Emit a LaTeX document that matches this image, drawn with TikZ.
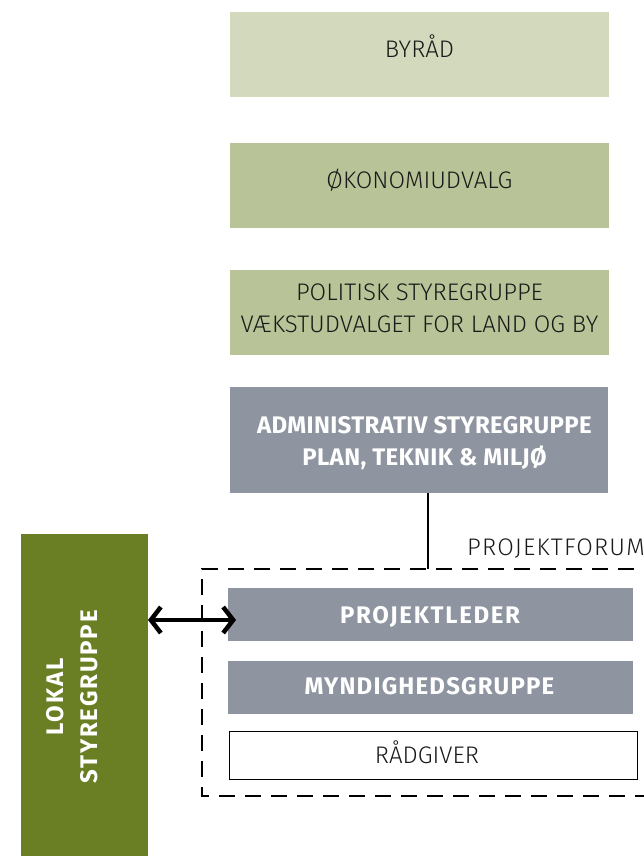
\documentclass[tikz,border=0pt]{standalone}
\usepackage{fontspec}
\setmainfont{Fira Sans}[UprightFont=* Light, BoldFont=* Bold]
\usetikzlibrary{arrows.meta}
\definecolor{cByraad}{HTML}{D3D9BC}
\definecolor{cOk}{HTML}{B8C497}
\definecolor{cGray}{HTML}{8E95A1}
\definecolor{cLokal}{HTML}{6A7F24}
\definecolor{cText}{HTML}{1A1A1A}
\newcommand{\lsp}[1]{\addfontfeature{LetterSpace=#1}}
\tikzset{
  panel/.style={inner sep=0pt, outer sep=0pt},
  reg/.style={anchor=base, inner sep=0pt, text=cText, font=\fontsize{24}{28}\selectfont},
  bld/.style={anchor=base, inner sep=0pt, text=white, font=\fontsize{24}{28}\selectfont\bfseries},
}
\begin{document}
\begin{tikzpicture}[x=1pt,y=-1pt]
\useasboundingbox (0,0) rectangle (644,856);
\begin{scope}
\clip (0,0) rectangle (644,856);
% panels
\node[panel, fill=cByraad, minimum width=379pt, minimum height=85pt] (byraad) at (419.5,54.5) {};
\node[panel, fill=cOk, minimum width=379pt, minimum height=85pt] (okonomi) at (419.5,185.5) {};
\node[panel, fill=cOk, minimum width=379pt, minimum height=85pt] (politisk) at (419.5,312.5) {};
\node[panel, fill=cGray, minimum width=378pt, minimum height=106pt] (admin) at (419,440) {};
\node[panel, fill=cGray, minimum width=405pt, minimum height=53pt] (leder) at (430.5,614.5) {};
\node[panel, fill=cGray, minimum width=405pt, minimum height=53pt] (myndighed) at (430.5,687.5) {};
\node[panel, draw=black, line width=0.8pt, fill=white, minimum width=408pt, minimum height=48pt] (raadgiver) at (433,755) {};
\node[panel, fill=cLokal, minimum width=127pt, minimum height=322pt] (lokal) at (84.5,695) {};
% texts
\node[reg] (byraadT) at (419.5,58) {BYRÅD};
\node[reg] (okonomiT) at (419.5,188) {ØKONOMIUDVALG};
\node[reg] (politiskT1) at (419.5,300) {POLITISK STYREGRUPPE};
\node[reg] (politiskT2) at (419.5,332) {VÆKSTUDVALGET FOR LAND OG BY};
\node[bld] (adminT1) at (424.5,433) {\lsp{1.5}ADMINISTRATIV STYREGRUPPE};
\node[bld] (adminT2) at (424.5,465) {\lsp{1.5}PLAN, TEKNIK \& MILJØ};
\node[bld] (lederT) at (430,623) {\lsp{7}PROJEKTLEDER};
\node[bld] (myndighedT) at (429.5,694) {\lsp{5}MYNDIGHEDSGRUPPE};
\node[reg] (raadgiverT) at (427,763) {RÅDGIVER};
\node[bld, rotate=90] (lokalT1) at (63,697) {\lsp{8}LOKAL};
\node[bld, rotate=90] (lokalT2) at (97,697) {\lsp{8}STYREGRUPPE};
% projektforum
\coordinate (forumtop) at (428,569);
\draw[line width=2pt, dash pattern=on 16pt off 10pt] (660,569) -- (202,569) -- (202,796) -- (660,796);
\draw[line width=2pt] (admin.south -| forumtop) -- (forumtop);
\node[reg, anchor=base west] (forum) at (467,555) {\lsp{5}PROJEKTFORUM};
\draw[line width=4.5pt, {Straight Barb[length=10pt,width=26pt]}-{Straight Barb[length=10pt,width=26pt]}] (lokal.east |- 0,620) -- (236,620);
\end{scope}
\end{tikzpicture}
\end{document}
